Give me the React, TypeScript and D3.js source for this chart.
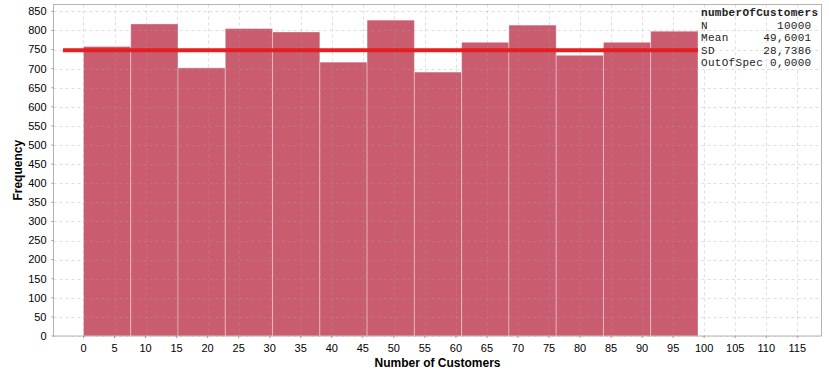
import React from "react";
import * as d3 from "d3";

const binCounts = [758, 817, 702, 805, 796, 717, 827, 691, 769, 814, 735, 769, 798];
const binStart = 0;
const binEnd = 99;
const fitLevel = 748;
const fitRange = [-3.3, 99];
const xTicks = d3.range(0, 120, 5);
const yTicks = d3.range(0, 900, 50);
const statLabels = ["N", "Mean", "SD", "OutOfSpec"];
const statValues = ["10000", "49,6001", "28,7386", "0,0000"];
const statTitle = "numberOfCustomers";

export default function App() {
  const W = 829, H = 377;
  const left = 53.5, right = 821.5, top = 4.5, bottom = 336;
  const x = d3.scaleLinear().domain([-4.83, 118.9]).range([left, right]);
  const y = d3.scaleLinear().domain([0, 868]).range([bottom, top]);
  const bw = (binEnd - binStart) / binCounts.length;
  const font = "'Liberation Sans', Arial, sans-serif";
  const mono = "'Liberation Mono', 'DejaVu Sans Mono', monospace";
  return (
    <svg width={W} height={H} style={{ position: "absolute", left: 0, top: 0 }}>
      <rect x={0} y={0} width={W} height={H} fill="#fff" />
      {binCounts.map((c, i) => (
        <rect key={i} x={x(binStart + i * bw)} y={y(c)} width={x(binStart + (i + 1) * bw) - x(binStart + i * bw)} height={bottom - y(c)}
          fill="#c95c6f" stroke="rgba(255,255,255,0.35)" strokeWidth={1} />
      ))}
      {yTicks.map((t) => (
        <line key={"gy" + t} x1={left} x2={right} y1={Math.round(y(t)) + 0.5} y2={Math.round(y(t)) + 0.5}
          stroke="rgba(160,160,160,0.35)" strokeDasharray="3,3" />
      ))}
      {xTicks.map((t) => (
        <line key={"gx" + t} x1={Math.round(x(t)) + 0.5} x2={Math.round(x(t)) + 0.5} y1={top} y2={bottom}
          stroke="rgba(160,160,160,0.35)" strokeDasharray="3,3" />
      ))}
      <line x1={x(fitRange[0])} x2={x(fitRange[1])} y1={y(fitLevel)} y2={y(fitLevel)} stroke="#e51f1f" strokeWidth={4} />
      <rect x={left} y={top} width={right - left} height={bottom - top} fill="none" stroke="#b4b4b4" strokeWidth={1} />
      {yTicks.map((t) => (
        <g key={"ty" + t}>
          <line x1={left - 2} x2={left} y1={y(t)} y2={y(t)} stroke="#999" />
          <text x={left - 7} y={y(t)} dy="0.35em" textAnchor="end" fontFamily={font} fontSize={11} fill="#000">{t}</text>
        </g>
      ))}
      {xTicks.map((t) => (
        <g key={"tx" + t}>
          <line x1={x(t)} x2={x(t)} y1={bottom} y2={bottom + 2} stroke="#999" />
          <text x={x(t)} y={bottom + 12} dy="0.35em" textAnchor="middle" fontFamily={font} fontSize={11} fill="#000">{t}</text>
        </g>
      ))}
      <text x={(left + right) / 2} y={367} textAnchor="middle" fontFamily={font} fontSize={12} fontWeight="bold">Number of Customers</text>
      <text transform={`translate(22,${(top + bottom) / 2}) rotate(-90)`} textAnchor="middle" fontFamily={font} fontSize={12} fontWeight="bold">Frequency</text>
      <text x={701} y={11.7} dy="0.35em" fontFamily={mono} fontSize={11} letterSpacing={0.3} fontWeight="bold" fill="#222">{statTitle}</text>
      {statLabels.map((l, i) => (
        <g key={l}>
          <text x={701} y={25.2 + i * 12.3} dy="0.35em" fontFamily={mono} fontSize={11} letterSpacing={0.3} fill="#222">{l}</text>
          <text x={811.5} y={25.2 + i * 12.3} dy="0.35em" textAnchor="end" fontFamily={mono} fontSize={11} letterSpacing={0.3} fill="#222">{statValues[i]}</text>
        </g>
      ))}
    </svg>
  );
}
